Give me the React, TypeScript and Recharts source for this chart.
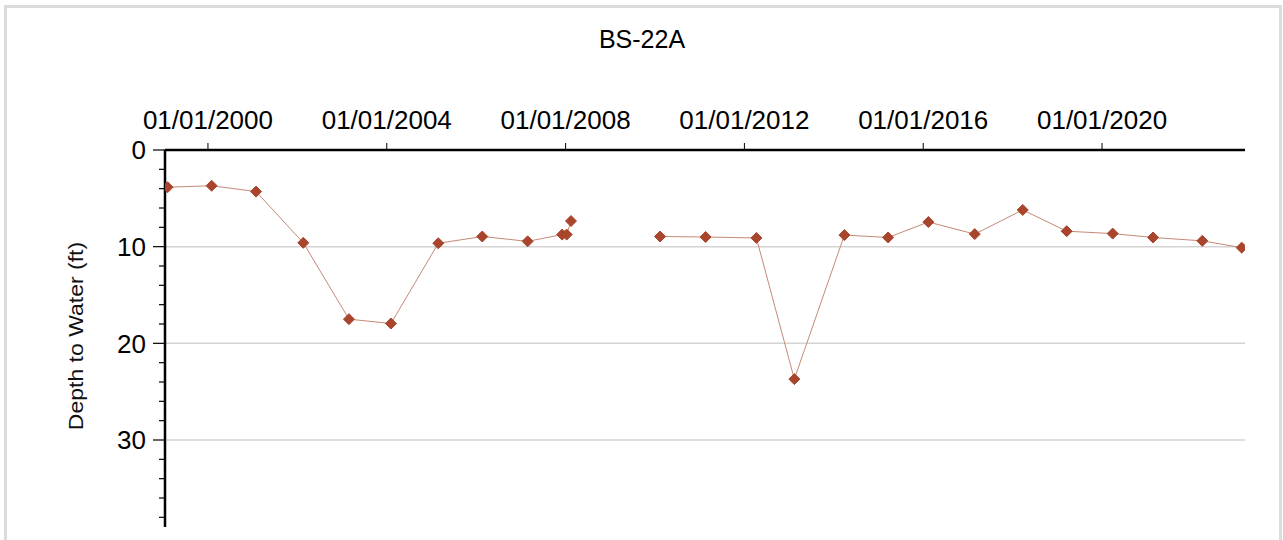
import { LineChart, Line, XAxis, YAxis, ReferenceLine } from 'recharts'

// sample dates (null depth marks the gap in records)
const sampleDates = [
  '1999-02-05', '2000-01-31', '2001-01-28', '2002-02-18', '2003-02-26',
  '2004-02-04', '2005-02-25', '2006-02-19', '2007-02-25', '2007-12-04',
  '2008-01-10', '2008-02-14', '2009-01-01', '2010-02-11', '2011-02-18',
  '2012-04-08', '2013-02-12', '2014-03-28', '2015-03-20', '2016-02-12',
  '2017-02-25', '2018-03-24', '2019-03-18', '2020-03-28', '2021-02-21',
  '2022-03-30', '2023-02-15',
]

const depthToWater: (number | null)[] = [
  3.85, 3.7, 4.3, 9.6, 17.5,
  17.95, 9.65, 8.95, 9.45, 8.75,
  8.75, 7.35, null, 8.95, 9.0,
  9.1, 23.7, 8.8, 9.05, 7.45,
  8.7, 6.2, 8.4, 8.65, 9.05,
  9.4, 10.1,
]

const xTickDates = ['2000-01-01', '2004-01-01', '2008-01-01', '2012-01-01', '2016-01-01', '2020-01-01']
const yTicks = [0, 2, 4, 6, 8, 10, 12, 14, 16, 18, 20, 22, 24, 26, 28, 30, 32, 34, 36, 38]
const gridValues = [10, 20, 30]

const toTime = (d: string) => Date.parse(d + 'T00:00:00Z')

const data = sampleDates.map((d, i) => ({ t: toTime(d), depth: depthToWater[i] }))

const FONT = '"Liberation Sans", Arial, sans-serif'

function formatDate(t: number) {
  const d = new Date(t)
  const mm = String(d.getUTCMonth() + 1).padStart(2, '0')
  const dd = String(d.getUTCDate()).padStart(2, '0')
  return `${mm}/${dd}/${d.getUTCFullYear()}`
}

function YTick(props: any) {
  const { x, y, payload } = props
  const major = payload.value % 10 === 0
  return (
    <g>
      <line x1={x - (major ? 12 : 6)} x2={x} y1={y} y2={y} stroke="#000" strokeWidth={1.2} />
      {major && (
        <text x={x - 19} y={y} dy="0.36em" textAnchor="end" fontSize={26} fontFamily={FONT} fill="#000">
          {payload.value}
        </text>
      )}
    </g>
  )
}

function Diamond(props: any) {
  const { cx, cy, value } = props
  if (value == null || cx == null || cy == null) return <g />
  const r = 5.5
  return (
    <path
      d={`M${cx},${cy - r} L${cx + r},${cy} L${cx},${cy + r} L${cx - r},${cy} Z`}
      fill="#a8452c"
      stroke="#a8452c"
      strokeWidth={1}
      strokeLinejoin="round"
    />
  )
}

export default function App() {
  return (
    <div style={{ position: 'absolute', left: 0, top: 0, width: 1283, height: 540, overflow: 'hidden', background: '#fff' }}>
      <div
        style={{
          position: 'absolute', left: 4, top: 5, width: 1272, height: 600,
          border: '3px solid #dcdcdc',
        }}
      />
      <div
        style={{
          position: 'absolute', left: 442, top: 24, width: 400, textAlign: 'center',
          fontFamily: FONT, fontSize: 25, color: '#000', lineHeight: '30px',
        }}
      >
        BS-22A
      </div>
      <div
        style={{
          position: 'absolute', left: 76, top: 336, width: 260, marginLeft: -130, marginTop: -14,
          textAlign: 'center', fontFamily: FONT, fontSize: 23, color: '#111', lineHeight: '28px',
          transform: 'rotate(-90deg) scaleY(0.87)',
        }}
      >
        Depth to Water (ft)
      </div>
      <div style={{ position: 'absolute', left: 0, top: 0 }}>
        <LineChart width={1283} height={540} data={data} margin={{ top: 90, right: 38, bottom: 13, left: 65 }}>
          {gridValues.map((v) => (
            <ReferenceLine key={v} y={v} stroke="#d4d4d4" strokeWidth={1.5} />
          ))}
          <XAxis
            dataKey="t"
            type="number"
            orientation="top"
            height={60}
            domain={[toTime('1999-01-15'), toTime('2023-03-14')]}
            ticks={xTickDates.map(toTime)}
            tickFormatter={formatDate}
            axisLine={{ stroke: '#000', strokeWidth: 2.5 }}
            tickLine={{ stroke: '#000', strokeWidth: 1 }}
            tickSize={7}
            tickMargin={14}
            tick={{ fontSize: 26, fontFamily: FONT, fill: '#000' }}
            allowDataOverflow
          />
          <YAxis
            type="number"
            reversed
            width={100}
            domain={[0, 39]}
            ticks={yTicks}
            interval={0}
            axisLine={{ stroke: '#000', strokeWidth: 2.5 }}
            tickLine={false}
            tickSize={0}
            tickMargin={0}
            tick={<YTick />}
            allowDataOverflow
          />
          <Line
            dataKey="depth"
            stroke="#c48a78"
            strokeWidth={1}
            dot={<Diamond />}
            activeDot={false}
            connectNulls={false}
            isAnimationActive={false}
          />
        </LineChart>
      </div>
    </div>
  )
}
